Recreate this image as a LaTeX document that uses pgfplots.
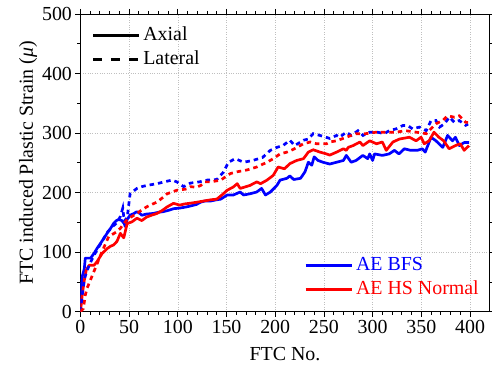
\documentclass[border=0pt]{standalone}
\usepackage{fontspec}
\setmainfont{Liberation Serif}
\usepackage{pgfplots}
\pgfplotsset{compat=1.18}
\newcommand{\bigfont}{\fontsize{20}{24}\selectfont}
\pgfplotsset{
  mylegend/.style={
    draw=none, fill=none, inner sep=0pt, row sep=0pt,
    font=\bigfont,
    nodes={inner sep=3bp, text height=14bp, text depth=4bp},
  },
  legend image code/.code={\draw[#1] (0bp,0bp) -- (46bp,0bp);},
}
\begin{document}
\begin{tikzpicture}
\useasboundingbox (-80.5bp,-57bp) rectangle (412bp,312bp);
\begin{axis}[
  scale only axis, width=409.5bp, height=298bp,
  xmin=0, xmax=420, ymin=0, ymax=500,
  xtick={0,50,...,400}, ytick={0,100,...,500},
  minor x tick num=4, minor y tick num=1,
  tick align=outside,
  major tick length=5bp, minor tick length=3bp,
  every tick/.style={black, line width=0.8bp},
  axis line style={line width=0.9bp},
  grid=major,
  major grid style={dotted, gray!50, line width=0.6bp},
  /pgf/number format/assume math mode=true,
  ticklabel style={font=\bigfont},
  xlabel={FTC No.}, ylabel={FTC induced Plastic Strain (\textit{μ})},
  label style={font=\bigfont},
  xlabel style={at={(axis description cs:0.5,-0.141)}, anchor=center},
  ylabel style={at={(axis description cs:-0.128,0.5)}, anchor=center},
  legend style={mylegend, at={(0.547,0.195)}, anchor=north west},
  legend cell align=left,
]
% AE BFS axial
\addplot[blue, line width=2.7bp, line join=round] coordinates {
(0,0) (1,40) (2,60) (4,72) (5,90) (8,90) (10.5,90) (14,98) (17,106) (20.7,115) (24,123) (27.5,132) (31,140) (34,148) (37,153) (39.5,155) (42.5,153) (45,148) (46,143) (48,155) (51,162) (55,165) (58,168) (61,165) (63,162) (68,164) (75,165) (80,167) (85,168) (90,170) (95.6,173) (102,174) (109,176) (114,178) (119,180) (123.5,184) (128,186) (134,186) (140,188) (144,189) (150.7,196) (157,196) (164,201) (167.5,196) (174,198) (181,201) (186,207) (190,196) (195,201) (201.7,212) (205,221) (212,224) (215,228) (219,222) (226,224) (230.6,235) (234,251) (237.5,246) (240,260) (244,254) (249,251) (256,248) (263,251) (270,254) (273,262.5) (278,251) (283,254) (290,262.5) (295,257) (297,265) (300,254) (302,265) (310,262.5) (317,265) (322.4,271) (327,265) (332.6,273.6) (339,271) (346,271) (351,273.6) (354,268) (360,293) (365,287) (372,276) (377,296) (382,287) (385,293) (389,279) (394,284) (399,284)
};
\addlegendentry{\textcolor{blue}{AE BFS}}
% AE HS Normal axial
\addplot[red, line width=2.7bp, line join=round] coordinates {
(0,0) (2,30) (4,53) (6,70) (9,78) (14,78) (17,84) (22.4,98) (27.5,106) (31,110) (34,112) (37.5,118) (41,131.6) (44.5,124) (48,148) (53,151) (58,157) (63,153) (68,159) (73,162) (78.6,165) (84,170) (89,176) (95.6,182) (102,179) (107,181) (112,182) (120,184) (127,186) (134,188) (140,189) (146,197) (150.7,204) (157,209.5) (161,215) (164,207) (174,212) (181,218) (185,215) (191.6,221) (198,229) (203,243) (209.5,240) (215,248.6) (222,254) (229,257) (234,268) (239,272) (246,268) (252.6,265) (256,263) (263,268) (270,273.6) (273,271) (275,276) (280,279) (287,285) (290,279) (297,287) (304,282) (310,285) (314,271) (320.8,285) (327.6,290) (337.8,293) (344.6,287) (349.7,293) (353,282) (358,287) (363,301.5) (368,293) (373,287) (378.5,273.6) (385,279) (390,282) (394,271) (399,279)
};
\addlegendentry{\textcolor{red}{AE HS Normal}}
% AE BFS lateral
\addplot[blue, line width=2.7bp, dash pattern=on 4.5bp off 4bp, forget plot] coordinates {
(0,0) (2,30) (4,55) (6,65) (9,78) (14,95) (20,112) (27.5,133) (33,143) (38,150) (41,160) (43.5,174) (45,152) (48,158) (51,198) (58,207) (63,210) (68,212) (78.6,215) (86,218) (94,221) (99,218) (106,210) (113,216) (122,218) (130,221) (140,222) (147,234.6) (152,251) (159,257) (167.5,251) (177,254) (187,259) (195,271) (201.7,276) (208,279) (215,288) (220,279) (229,288) (234,290) (239,299) (246,296) (256,291) (263,296) (266,293) (273,301.5) (278,296) (285,304) (290,296) (297,301.5) (305,301.5) (312,299) (317,304) (324,307) (331,312.7) (336,312.7) (341,307) (348,310) (355,304) (360,321) (365,321) (368.7,310) (373.8,315.6) (378.8,326.7) (384,318) (389,321) (395.6,313) (398,315)
};
% AE HS Normal lateral
\addplot[red, line width=2.7bp, dash pattern=on 4.5bp off 4bp, forget plot] coordinates {
(0,0) (3,5) (5,28) (7,40) (10,52) (12,60) (17,80) (22,100) (29,126) (33,130) (37,134) (41,140) (48,155) (53,160) (58,165) (63,171) (68,176) (73,180) (78.6,184) (84,191) (89,198) (99,204) (109,206) (113,210) (119,209) (123.5,212) (128,218) (134,218) (144,221) (154,232) (161,235) (171,238) (181,243) (191.6,251) (198,257) (205,265) (212,268) (219,273) (229,282) (236,285) (242.6,282) (252.6,282) (256,285) (263,287) (273,293) (283,299) (293,299) (304,301.5) (314,301.5) (324,301.5) (334,304) (344.6,301.5) (355,299) (358,304) (365,315.6) (372,321) (377,329) (384,326.7) (389,329) (395.6,318) (398,318)
};
\end{axis}
\begin{axis}[
  scale only axis, width=409.5bp, height=298bp,
  xmin=0, xmax=1, ymin=0, ymax=1, hide axis,
  legend style={mylegend, at={(0.027,0.968)}, anchor=north west},
  legend cell align=left,
]
\addlegendimage{black, line width=2.7bp}
\addlegendentry{Axial}
\addlegendimage{black, line width=2.7bp, dash pattern=on 9bp off 9bp}
\addlegendentry{Lateral}
\end{axis}
\end{tikzpicture}
\end{document}
